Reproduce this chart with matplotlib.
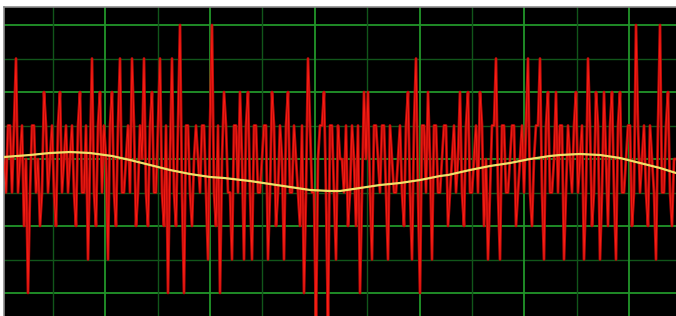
import numpy as np
import matplotlib.pyplot as plt

# red noise signal, main samples every 4 px, in grid divisions from the centre line
signal = [0, 1, -1, 3, 0, -2, -4, 1, -1, -2, 2, -1, 1, -2, 2, 0, -1, 1, -2, 2,
          -1, -3, 3, -2, 2, 1, -3, 2, -2, 3, -1, 1, 3, -2, 1, 3, -2, 2, -1, 3,
          -2, -4, 3, -2, 4, -4, 1, -2, 1, -1, 1, -3, 4, -2, -4, 2, -1, -3, 1, 2,
          -3, 2, -3, 1, -1, 1, -3, 2, -2, 1, -3, 2, -1, 0, -2, -4, 3, -1, -5, 1,
          2, -5, 1, -3, 0, -1, -2, 1, -2, -4, 2, 2, -3, 1, -1, 1, -3, 0, -1, 1,
          -2, 2, -3, 3, -4, 1, 2, -3, 1, -1, 1, -2, 0, -1, 2, -2, 2, -1, 1, 2,
          -2, -3, 1, 3, -3, 1, -1, 1, -2, 0, -1, 3, -2, 1, 3, -3, 2, -1, 2, 1,
          -3, 1, -1, 2, 0, -3, 3, -2, 2, -3, 2, -2, 2, -3, 2, -1, 1, -2, 4, -1,
          1, -2, 0, -3, 4, -1, 2, -2, 0]
# the small in-between samples that fill the band around the centre
signal_mid = [-1, 1, 1, -1, 1, 0, -1, 1, 0, -1, 1, 0, -1, 1, -1, 1, 0, -1, 1, -1,
              1, 0, -1, 1, -1, 0, 1, -1, 1, -1, 0, -1, 1, -1, 0, -1, 1, -1, 1, -1,
              1, 0, -1, 1, -1, 1, -1, 0, 0, 1, -1, 1, -1, 1, 0, 1, -1, 1, -1, 0,
              1, -1, 1, -1, 0, 1, -1, 1, -1, 0, 1, -1, 1, -1, 1, -1, 1, -1, 0, 1,
              -1, 1, -1, 1, 0, 1, -1, 0, 1, -1, 0, -1, 1, 0, 1, -1, 1, -1, 0, -1,
              1, -1, 1, -1, 1, -1, 0, 1, -1, 0, 1, -1, 1, 0, -1, 1, -1, 0, -1, 1,
              0, -1, 1, -1, 1, -1, 0, 1, -1, 1, 1, -1, 0, 1, -1, 1, -1, 0, -1, 1,
              -1, 0, 1, -1, 1, -1, 1, -1, 1, -1, 0, 1, -1, 1, -1, 0, 1, -1, 1, 0,
              -1, 1, -1, 1, -1, 1, -1, 0]

sig = np.empty(len(signal) + len(signal_mid))
sig[0::2] = signal
sig[1::2] = signal_mid
sig_x = np.arange(len(sig)) * 2 + 4

# smooth yellow trace (pixel x, pixel y)
trend_x = [4, 30, 50, 70, 90, 112, 130, 150, 170, 190, 210, 224, 250, 270, 290,
           310, 330, 340, 360, 380, 400, 420, 440, 448, 470, 490, 510, 530, 550,
           560, 580, 600, 620, 640, 660, 676]
trend_py = [157, 155, 153, 152, 153, 156, 160, 165, 170, 174, 177, 178, 181, 184,
            187, 190, 191, 191, 188, 185, 183, 180, 176, 175, 170, 166, 163, 159,
            156, 155, 154, 155, 158, 163, 168, 173]

DIV = 33.5      # pixels per grid division
CENTER = 159    # pixel row of the centre line
trend = [(CENTER - p) / DIV for p in trend_py]

fig = plt.figure(figsize=(6.76, 3.16), dpi=100)
fig.patch.set_facecolor('white')
ax = fig.add_axes([4 / 676, 0, 672 / 676, (316 - 7) / 316])
ax.set_facecolor('black')
ax.set_xlim(4, 676)
ax.set_ylim((CENTER - 316) / DIV, (CENTER - 7) / DIV)

# grid
for lvl in range(-4, 5):
    bright = lvl % 2 == 0
    ax.axhline(lvl, color='#22962a' if bright else '#11561a',
               lw=1.3 if bright else 1.0, zorder=1)
for k in range(1, 13):
    bright = k % 2 == 0
    ax.axvline(53 + 52.36 * (k - 1), color='#22962a' if bright else '#11561a',
               lw=1.3 if bright else 1.0, zorder=1)

ax.plot(sig_x, sig, color='#b80a0a', lw=2.0, zorder=2)
ax.plot(sig_x, sig, color='#ff2014', lw=0.6, zorder=3)
ax.plot(trend_x, trend, color='#f0e068', lw=1.6, zorder=4)

ax.set_xticks([])
ax.set_yticks([])
for side in ['right', 'bottom']:
    ax.spines[side].set_visible(False)
for side in ['top', 'left']:
    ax.spines[side].set_color('#8c8c8c')
    ax.spines[side].set_linewidth(1.2)

fig.savefig('out.png', dpi=100)
